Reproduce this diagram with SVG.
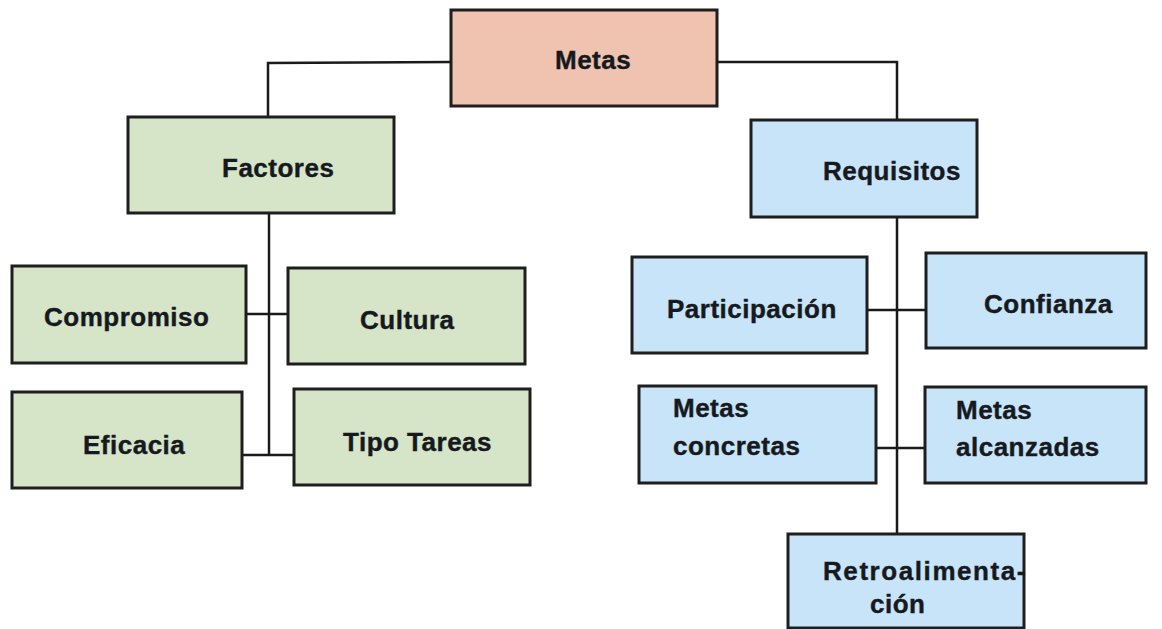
<svg xmlns="http://www.w3.org/2000/svg" width="1162" height="629" viewBox="0 0 1162 629">
  <style>
    .box { stroke: #1e1e1e; stroke-width: 3; }
    .root { fill: #f0c3b0; }
    .green { fill: #d6e4c8; }
    .blue { fill: #c8e4f8; }
    .lbl { font-family: "Liberation Sans", Arial, sans-serif; font-weight: bold; font-size: 26px; fill: #161a1e; stroke: #161a1e; stroke-width: 0.4; letter-spacing: 0.5px; }
    .wire { fill: none; stroke: #1a1a1a; stroke-width: 2.5; }
  </style>
  <rect width="1162" height="629" fill="#ffffff"/>

  <!-- connectors -->
  <g id="connectors">
    <polyline class="wire" points="451,62 268,63 268,117"/>
    <polyline class="wire" points="717,62 897,62 897,120"/>
    <line class="wire" x1="269" y1="213" x2="269" y2="455"/>
    <line class="wire" x1="246" y1="314" x2="288" y2="314"/>
    <line class="wire" x1="242" y1="455" x2="294" y2="455"/>
    <line class="wire" x1="897" y1="217" x2="897" y2="534"/>
    <line class="wire" x1="867" y1="310" x2="926" y2="310"/>
    <line class="wire" x1="876" y1="448" x2="925" y2="448"/>
  </g>

  <g id="metas">
    <rect class="box root" x="451" y="10" width="266" height="96"/>
    <text class="lbl" x="555" y="69">Metas</text>
  </g>

  <g id="factores">
    <rect class="box green" x="128" y="117" width="266" height="96"/>
    <text class="lbl" x="222" y="177">Factores</text>
  </g>

  <g id="compromiso">
    <rect class="box green" x="12" y="266" width="234" height="97"/>
    <text class="lbl" x="44" y="326">Compromiso</text>
  </g>

  <g id="cultura">
    <rect class="box green" x="288" y="268" width="237" height="96"/>
    <text class="lbl" x="360" y="329">Cultura</text>
  </g>

  <g id="eficacia">
    <rect class="box green" x="12" y="392" width="230" height="96"/>
    <text class="lbl" x="83" y="454">Eficacia</text>
  </g>

  <g id="tipo-tareas">
    <rect class="box green" x="294" y="389" width="236" height="96"/>
    <text class="lbl" x="343" y="451">Tipo Tareas</text>
  </g>

  <g id="requisitos">
    <rect class="box blue" x="751" y="120" width="226" height="97"/>
    <text class="lbl" x="823" y="180">Requisitos</text>
  </g>

  <g id="participacion">
    <rect class="box blue" x="632" y="257" width="235" height="96"/>
    <text class="lbl" x="667" y="318">Participación</text>
  </g>

  <g id="confianza">
    <rect class="box blue" x="926" y="253" width="220" height="95"/>
    <text class="lbl" x="984" y="313">Confianza</text>
  </g>

  <g id="metas-concretas">
    <rect class="box blue" x="639" y="386" width="237" height="97"/>
    <text class="lbl" x="673" y="417">Metas</text>
    <text class="lbl" x="673" y="455">concretas</text>
  </g>

  <g id="metas-alcanzadas">
    <rect class="box blue" x="925" y="387" width="221" height="96"/>
    <text class="lbl" x="956" y="419">Metas</text>
    <text class="lbl" x="956" y="456">alcanzadas</text>
  </g>

  <g id="retroalimentacion">
    <rect class="box blue" x="788" y="534" width="236" height="94"/>
    <text class="lbl" x="823" y="580" textLength="203" lengthAdjust="spacing">Retroalimenta-</text>
    <text class="lbl" x="870" y="613">ción</text>
  </g>
</svg>
